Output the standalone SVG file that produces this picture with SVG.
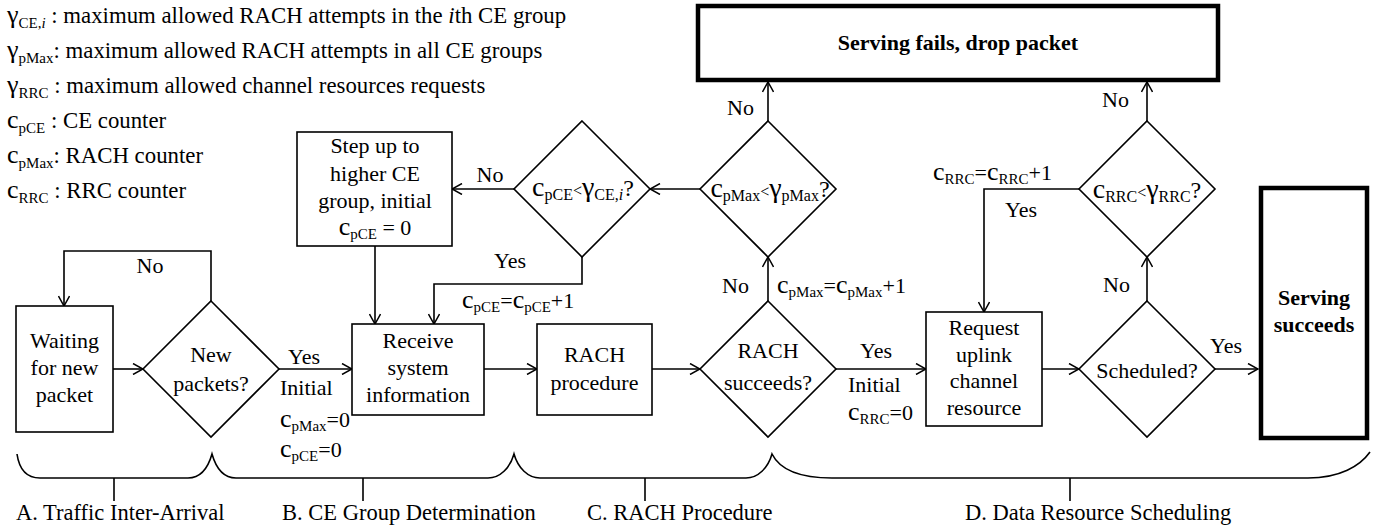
<svg xmlns="http://www.w3.org/2000/svg" width="1382" height="531" viewBox="0 0 1382 531">
<style>
.t{font-family:"Liberation Serif","Times New Roman",serif;font-size:22px;fill:#000}
.lg{font-size:22.8px}
.lb{font-size:22.5px}
.b{font-weight:bold}
.s{font-size:15px}
.c{font-size:26px}
.ds{font-size:16px}
.dc{font-size:28px}
.q{font-size:24px}
.lt{font-size:16px}
.i{font-style:italic}
.box{fill:#fff;stroke:#000;stroke-width:1.6}
.thick{fill:#fff;stroke:#000;stroke-width:4.5}
.ln{fill:none;stroke:#000;stroke-width:1.6}
.ar{fill:none;stroke:#000;stroke-width:1.6;marker-end:url(#arr)}
</style>
<defs>
<marker id="arr" markerWidth="12" markerHeight="12" refX="11" refY="6" orient="auto" markerUnits="userSpaceOnUse">
<path d="M1,0.5 L11,6 L1,11.5" fill="none" stroke="#000" stroke-width="1.5"/>
</marker>
</defs>
<rect width="1382" height="531" fill="#fff"/>

<g id="legend" class="t lg">
<text x="7" y="23"><tspan class="c">γ</tspan><tspan class="s" dy="5">CE,</tspan><tspan class="s i">i</tspan><tspan dy="-5"> : maximum allowed RACH attempts in the </tspan><tspan class="i">i</tspan><tspan>th CE group</tspan></text>
<text x="7" y="58"><tspan class="c">γ</tspan><tspan class="s" dy="5">pMax</tspan><tspan dy="-5">: maximum allowed RACH attempts in all CE groups</tspan></text>
<text x="7" y="93"><tspan class="c">γ</tspan><tspan class="s" dy="5">RRC</tspan><tspan dy="-5"> : maximum allowed channel resources requests</tspan></text>
<text x="7" y="128"><tspan class="c">c</tspan><tspan class="s" dy="5">pCE</tspan><tspan dy="-5"> : CE counter</tspan></text>
<text x="7" y="163"><tspan class="c">c</tspan><tspan class="s" dy="5">pMax</tspan><tspan dy="-5">: RACH counter</tspan></text>
<text x="7" y="198"><tspan class="c">c</tspan><tspan class="s" dy="5">RRC</tspan><tspan dy="-5"> : RRC counter</tspan></text>
</g>

<g id="connectors">
<line class="ar" x1="113" y1="369" x2="143" y2="369"/>
<polyline class="ar" points="211,301 211,251 64,251 64,306"/>
<line class="ar" x1="279" y1="369" x2="352" y2="369"/>
<line class="ar" x1="375" y1="246" x2="375" y2="324"/>
<polyline class="ar" points="582,257 582,284 434,284 434,324"/>
<line class="ar" x1="514" y1="189" x2="452" y2="189"/>
<line class="ar" x1="484" y1="369" x2="537" y2="369"/>
<line class="ar" x1="652" y1="369" x2="700" y2="369"/>
<line class="ar" x1="768" y1="301" x2="768" y2="257"/>
<line class="ar" x1="700" y1="189" x2="650" y2="189"/>
<line class="ar" x1="768" y1="121" x2="768" y2="82"/>
<line class="ar" x1="836" y1="369" x2="926" y2="369"/>
<line class="ar" x1="1042" y1="369" x2="1079" y2="369"/>
<line class="ar" x1="1147" y1="301" x2="1147" y2="257"/>
<line class="ar" x1="1147" y1="121" x2="1147" y2="82"/>
<polyline class="ar" points="1079,189 984,189 984,312"/>
<line class="ar" x1="1215" y1="369" x2="1258" y2="369"/>
<g class="t">
<text x="150" y="273" text-anchor="middle">No</text>
<text x="288" y="364">Yes</text>
<text x="280" y="395">Initial</text>
<text x="280" y="427"><tspan class="c">c</tspan><tspan class="s" dy="4">pMax</tspan><tspan dy="-4">=0</tspan></text>
<text x="280" y="457"><tspan class="c">c</tspan><tspan class="s" dy="4">pCE</tspan><tspan dy="-4">=0</tspan></text>
<text x="510" y="268" text-anchor="middle">Yes</text>
<text x="462" y="308"><tspan class="c">c</tspan><tspan class="s" dy="4">pCE</tspan><tspan dy="-4">=</tspan><tspan class="c">c</tspan><tspan class="s" dy="4">pCE</tspan><tspan dy="-4">+1</tspan></text>
<text x="490" y="182" text-anchor="middle">No</text>
<text x="722" y="293">No</text>
<text x="777" y="293"><tspan class="c">c</tspan><tspan class="s" dy="4">pMax</tspan><tspan dy="-4">=</tspan><tspan class="c">c</tspan><tspan class="s" dy="4">pMax</tspan><tspan dy="-4">+1</tspan></text>
<text x="727" y="115">No</text>
<text x="860" y="358">Yes</text>
<text x="848" y="392">Initial</text>
<text x="848" y="420"><tspan class="c">c</tspan><tspan class="s" dy="4">RRC</tspan><tspan dy="-4">=0</tspan></text>
<text x="1103" y="292">No</text>
<text x="1102" y="107">No</text>
<text x="933" y="180"><tspan class="c">c</tspan><tspan class="s" dy="4">RRC</tspan><tspan dy="-4">=</tspan><tspan class="c">c</tspan><tspan class="s" dy="4">RRC</tspan><tspan dy="-4">+1</tspan></text>
<text x="1005" y="217">Yes</text>
<text x="1210" y="353">Yes</text>
</g>
</g>

<g id="waiting">
<rect class="box" x="16" y="306" width="97" height="126"/>
<text class="t" text-anchor="middle"><tspan x="64.5" y="348">Waiting</tspan><tspan x="64.5" y="375">for new</tspan><tspan x="64.5" y="402">packet</tspan></text>
</g>

<g id="new-packets">
<polygon class="box" points="211,301 279,369 211,437 143,369"/>
<text class="t" text-anchor="middle"><tspan x="211" y="362">New</tspan><tspan x="211" y="391">packets?</tspan></text>
</g>

<g id="receive">
<rect class="box" x="352" y="324" width="132" height="91"/>
<text class="t" text-anchor="middle"><tspan x="418" y="348">Receive</tspan><tspan x="418" y="375">system</tspan><tspan x="418" y="402">information</tspan></text>
</g>

<g id="step-up">
<rect class="box" x="297" y="132" width="155" height="114"/>
<text class="t" text-anchor="middle"><tspan x="375" y="153">Step up to</tspan><tspan x="375" y="181">higher CE</tspan><tspan x="375" y="208">group, initial</tspan></text>
<text class="t" x="375" y="235" text-anchor="middle"><tspan class="c">c</tspan><tspan class="s" dy="4">pCE</tspan><tspan dy="-4"> = 0</tspan></text>
</g>

<g id="ce-check">
<polygon class="box" points="582,121 650,189 582,257 514,189"/>
<text class="t" x="583" y="196" text-anchor="middle"><tspan class="dc">c</tspan><tspan class="ds" dy="4">pCE</tspan><tspan class="lt" dy="-4">&lt;</tspan><tspan class="dc">γ</tspan><tspan class="ds" dy="4">CE,</tspan><tspan class="ds i">i</tspan><tspan class="q" dy="-4">?</tspan></text>
</g>

<g id="rach-proc">
<rect class="box" x="537" y="324" width="115" height="91"/>
<text class="t" text-anchor="middle"><tspan x="594.5" y="362">RACH</tspan><tspan x="594.5" y="390">procedure</tspan></text>
</g>

<g id="rach-succeeds">
<polygon class="box" points="768,301 836,369 768,437 700,369"/>
<text class="t" text-anchor="middle"><tspan x="768" y="358">RACH</tspan><tspan x="768" y="390">succeeds?</tspan></text>
</g>

<g id="pmax-check">
<polygon class="box" points="768,121 836,189 768,257 700,189"/>
<text class="t" x="770" y="197" text-anchor="middle"><tspan class="dc">c</tspan><tspan class="ds" dy="4">pMax</tspan><tspan class="lt" dy="-4">&lt;</tspan><tspan class="dc">γ</tspan><tspan class="ds" dy="4">pMax</tspan><tspan class="q" dy="-4">?</tspan></text>
</g>

<g id="serving-fails">
<rect class="thick" x="698" y="6" width="520" height="74"/>
<text class="t b" x="958" y="50" text-anchor="middle">Serving fails, drop packet</text>
</g>

<g id="request">
<rect class="box" x="926" y="312" width="116" height="114"/>
<text class="t" text-anchor="middle"><tspan x="984" y="335">Request</tspan><tspan x="984" y="362">uplink</tspan><tspan x="984" y="388">channel</tspan><tspan x="984" y="415">resource</tspan></text>
</g>

<g id="scheduled">
<polygon class="box" points="1147,301 1215,369 1147,437 1079,369"/>
<text class="t" x="1147" y="378" text-anchor="middle">Scheduled?</text>
</g>

<g id="rrc-check">
<polygon class="box" points="1147,121 1215,189 1147,257 1079,189"/>
<text class="t" x="1147" y="198" text-anchor="middle"><tspan class="dc">c</tspan><tspan class="ds" dy="4">RRC</tspan><tspan class="lt" dy="-4">&lt;</tspan><tspan class="dc">γ</tspan><tspan class="ds" dy="4">RRC</tspan><tspan class="q" dy="-4">?</tspan></text>
</g>

<g id="serving-succeeds">
<rect class="thick" x="1261" y="188" width="106" height="250"/>
<text class="t b" text-anchor="middle"><tspan x="1314" y="305">Serving</tspan><tspan x="1314" y="332">succeeds</tspan></text>
</g>

<g id="phases">
<path class="ln" d="M17,454 C19,468 26,478 40,478 L188,478 C200,478 208,468 212,454 C216,468 224,478 236,478 L488,478 C500,478 510,468 514,454 C518,468 528,478 540,478 L746,478 C758,478 768,468 772,454 C780,470 800,478 832,478 L1308,478 C1340,478 1360,466 1370,452"/>
<path class="ln" d="M114,478 V501 M363,478 V501 M645,478 V501 M1070,478 V501"/>
<g class="t lb">
<text x="16" y="520">A. Traffic Inter-Arrival</text>
<text x="282" y="520">B. CE Group Determination</text>
<text x="587" y="520">C. RACH Procedure</text>
<text x="965" y="520">D. Data Resource Scheduling</text>
</g>
</g>
</svg>
